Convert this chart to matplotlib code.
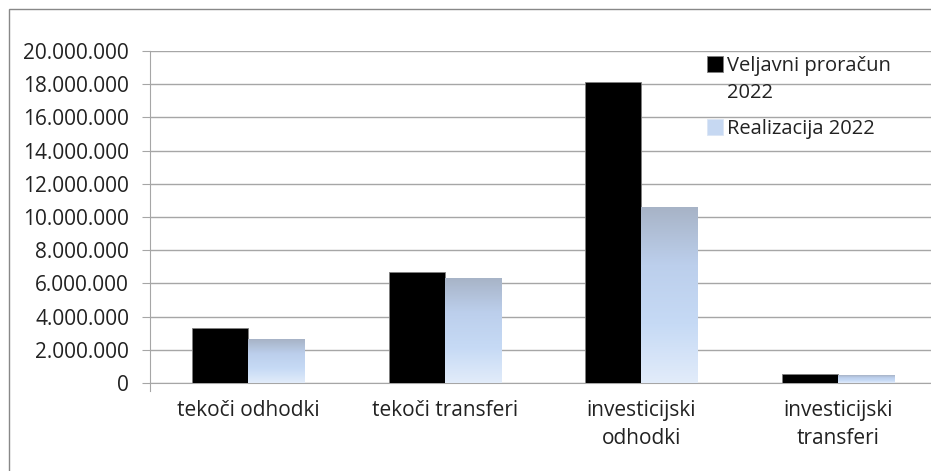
import numpy as np
import matplotlib.pyplot as plt
from matplotlib.patches import Rectangle
from matplotlib.colors import LinearSegmentedColormap
from matplotlib.ticker import FuncFormatter

plt.rcParams['font.family'] = ['Open Sans', 'DejaVu Sans']

# podatki
kategorije = ['tekoči odhodki', 'tekoči transferi', 'investicijski\nodhodki', 'investicijski\ntransferi']
veljavni = [3310000, 6700000, 18150000, 520000]
realizacija = [2630000, 6340000, 10620000, 480000]
oznake = ['Veljavni proračun\n2022', 'Realizacija 2022']

fig = plt.figure(figsize=(9.31, 4.71), dpi=100)
ax = fig.add_axes([150 / 931, (471 - 383) / 471, (936 - 150) / 931, (383 - 51) / 471])

x = np.arange(len(kategorije))
sirina = 0.285

b1 = ax.bar(x - sirina / 2, veljavni, sirina, color='black', edgecolor='#808080', linewidth=0.6, zorder=3, label=oznake[0])
b2 = ax.bar(x + sirina / 2, realizacija, sirina, color='#c6d8f2', edgecolor='#dce6f5', linewidth=0.6, zorder=3, label=oznake[1])

# gradient v modrih stolpcih
cmap = LinearSegmentedColormap.from_list('grad', ['#a7b3c6', '#bccfec', '#c6daf5', '#e2ecfa'])
grad = np.linspace(0, 1, 256).reshape(-1, 1)
for bar in b2:
    x0, y0 = bar.get_x(), bar.get_y()
    w, h = bar.get_width(), bar.get_height()
    im = ax.imshow(grad, cmap=cmap, aspect='auto', extent=(x0, x0 + w, y0, y0 + h), zorder=3.5, origin='upper')
    im.set_clip_path(bar)

ax.set_xlim(-0.5, len(kategorije) - 0.5)
ax.set_ylim(0, 20000000)
ax.set_yticks(np.arange(0, 20000001, 2000000))
ax.yaxis.set_major_formatter(FuncFormatter(lambda v, p: f'{int(v):,}'.replace(',', '.')))
ax.grid(axis='y', color='#a6a6a6', linewidth=1, zorder=0)
ax.set_axisbelow(True)

ax.set_xticks(x)
ax.set_xticklabels(kategorije, fontsize=15, color='#222222', linespacing=1.45)
ax.tick_params(axis='x', length=0, pad=12)
ax.tick_params(axis='y', length=6, color='#a6a6a6', pad=9, labelsize=15, labelcolor='#222222')

for s in ['top', 'right']:
    ax.spines[s].set_visible(False)
ax.spines['left'].set_color('#a6a6a6')
ax.spines['bottom'].set_color('#a6a6a6')
ax.spines['left'].set_bounds(-480000, 20000000)

leg = ax.legend(handles=[b1, b2], loc='upper left', bbox_to_anchor=(689 / 931, 1 - 38 / 471),
                bbox_transform=fig.transFigure, frameon=False, fontsize=14.5, handlelength=0.8,
                handleheight=0.8, handletextpad=0.2, labelspacing=0.8, labelcolor='#222222')
for t in leg.get_texts():
    t.set_linespacing(1.45)
leg.legend_handles[1].set_facecolor('#c6d8f2')
# kvadratek ob prvi vrstici oznake
h0 = leg.legend_handles[0]
h0.set_y(h0.get_y() + 11.5)

# okvir grafa
fig.patches.append(Rectangle((9 / 931, -0.1), 1.2, 1 - 9 / 471 + 0.1, transform=fig.transFigure,
                             fill=False, edgecolor='#888888', linewidth=1))

plt.savefig('out.png', dpi=100)
